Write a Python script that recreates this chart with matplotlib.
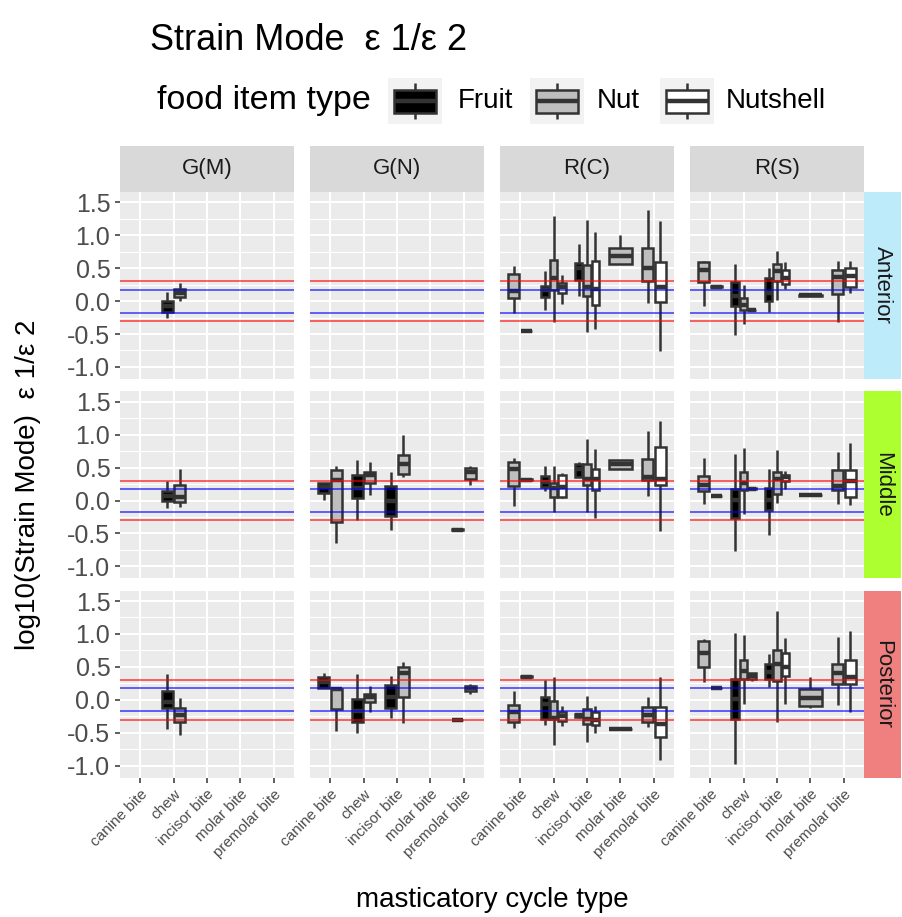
import matplotlib
matplotlib.use('Agg')
import matplotlib.pyplot as plt
from matplotlib.patches import Rectangle

plt.rcParams['font.family'] = ['Liberation Sans', 'DejaVu Sans']

# categories
cycles = ['canine bite', 'chew', 'incisor bite', 'molar bite', 'premolar bite']
foods = ['Fruit', 'Nut', 'Nutshell']
food_colors = {'Fruit': '#000000', 'Nut': '#BEBEBE', 'Nutshell': '#FFFFFF'}
muscles = ['G(M)', 'G(N)', 'R(C)', 'R(S)']
regions = ['Anterior', 'Middle', 'Posterior']
region_colors = ['#BDEBFA', '#ADFF2F', '#F08080']
yticks = [-1.0, -0.5, 0.0, 0.5, 1.0, 1.5]

# box stats: cycle, food, whisker low, q1, median, q3, whisker high
anterior_gm = [
    ('chew', 'Fruit', -0.25, -0.16, -0.07, 0.0, 0.14),
    ('chew', 'Nut', 0.0, 0.06, 0.12, 0.18, 0.27),
]
anterior_gn = []
anterior_rc = [
    ('canine bite', 'Nut', -0.18, 0.05, 0.15, 0.41, 0.53),
    ('canine bite', 'Nutshell', -0.47, -0.46, -0.46, -0.45, -0.45),
    ('chew', 'Fruit', -0.14, 0.06, 0.17, 0.23, 0.45),
    ('chew', 'Nut', -0.31, 0.17, 0.35, 0.62, 1.29),
    ('chew', 'Nutshell', -0.04, 0.12, 0.21, 0.27, 0.40),
    ('incisor bite', 'Fruit', 0.08, 0.32, 0.50, 0.58, 0.87),
    ('incisor bite', 'Nut', -0.47, 0.08, 0.22, 0.55, 1.23),
    ('incisor bite', 'Nutshell', -0.42, -0.06, 0.18, 0.61, 1.05),
    ('molar bite', 'Nut', 0.57, 0.57, 0.68, 0.81, 1.01),
    ('premolar bite', 'Nut', -0.03, 0.31, 0.51, 0.81, 1.39),
    ('premolar bite', 'Nutshell', -0.76, -0.02, 0.21, 0.59, 1.22),
]
anterior_rs = [
    ('canine bite', 'Nut', -0.08, 0.29, 0.47, 0.60, 0.61),
    ('canine bite', 'Nutshell', 0.21, 0.22, 0.22, 0.23, 0.23),
    ('chew', 'Fruit', -0.52, -0.08, 0.07, 0.29, 0.57),
    ('chew', 'Nut', -0.35, -0.13, -0.055, 0.045, 0.25),
    ('chew', 'Nutshell', -0.15, -0.14, -0.14, -0.13, -0.13),
    ('incisor bite', 'Fruit', -0.16, 0.0, 0.12, 0.35, 0.51),
    ('incisor bite', 'Nut', 0.02, 0.31, 0.45, 0.56, 0.76),
    ('incisor bite', 'Nutshell', 0.18, 0.26, 0.35, 0.47, 0.60),
    ('molar bite', 'Nut', 0.07, 0.07, 0.09, 0.10, 0.13),
    ('premolar bite', 'Nut', -0.31, 0.11, 0.36, 0.47, 0.61),
    ('premolar bite', 'Nutshell', 0.13, 0.21, 0.38, 0.51, 0.61),
]

middle_gm = [
    ('chew', 'Fruit', -0.12, -0.01, 0.07, 0.14, 0.29),
    ('chew', 'Nut', -0.10, -0.02, 0.05, 0.24, 0.48),
]
middle_gn = [
    ('canine bite', 'Fruit', 0.005, 0.12, 0.21, 0.27, 0.27),
    ('canine bite', 'Nut', -0.65, -0.32, 0.31, 0.47, 0.52),
    ('chew', 'Fruit', -0.30, 0.04, 0.19, 0.38, 0.61),
    ('chew', 'Nut', 0.08, 0.26, 0.38, 0.43, 0.58),
    ('incisor bite', 'Fruit', -0.45, -0.24, -0.01, 0.22, 0.43),
    ('incisor bite', 'Nut', 0.35, 0.41, 0.56, 0.69, 0.99),
    ('premolar bite', 'Fruit', -0.46, -0.45, -0.45, -0.44, -0.44),
    ('premolar bite', 'Nut', 0.24, 0.33, 0.44, 0.50, 0.53),
]
middle_rc = [
    ('canine bite', 'Nut', -0.08, 0.22, 0.48, 0.59, 0.65),
    ('canine bite', 'Nutshell', 0.30, 0.31, 0.31, 0.32, 0.32),
    ('chew', 'Fruit', 0.14, 0.21, 0.28, 0.37, 0.52),
    ('chew', 'Nut', -0.18, 0.055, 0.19, 0.26, 0.52),
    ('chew', 'Nutshell', 0.04, 0.055, 0.20, 0.38, 0.42),
    ('incisor bite', 'Fruit', 0.36, 0.36, 0.48, 0.56, 0.58),
    ('incisor bite', 'Nut', -0.18, 0.23, 0.32, 0.56, 0.93),
    ('incisor bite', 'Nutshell', -0.26, 0.16, 0.33, 0.48, 0.78),
    ('molar bite', 'Nut', 0.48, 0.48, 0.56, 0.62, 0.62),
    ('premolar bite', 'Nut', 0.075, 0.31, 0.36, 0.63, 1.05),
    ('premolar bite', 'Nutshell', -0.46, 0.24, 0.33, 0.81, 1.21),
]
middle_rs = [
    ('canine bite', 'Nut', -0.06, 0.14, 0.23, 0.37, 0.64),
    ('canine bite', 'Nutshell', 0.06, 0.065, 0.065, 0.07, 0.07),
    ('chew', 'Fruit', -0.76, -0.26, 0.015, 0.17, 0.71),
    ('chew', 'Nut', -0.20, 0.165, 0.27, 0.43, 0.80),
    ('chew', 'Nutshell', 0.17, 0.18, 0.18, 0.19, 0.19),
    ('incisor bite', 'Fruit', -0.52, -0.14, 0.015, 0.19, 0.48),
    ('incisor bite', 'Nut', -0.045, 0.105, 0.32, 0.43, 0.76),
    ('incisor bite', 'Nutshell', 0.17, 0.29, 0.35, 0.39, 0.45),
    ('molar bite', 'Nut', 0.08, 0.08, 0.08, 0.09, 0.09),
    ('premolar bite', 'Nut', -0.06, 0.16, 0.22, 0.46, 0.73),
    ('premolar bite', 'Nutshell', -0.075, 0.055, 0.30, 0.46, 0.88),
]

posterior_gm = [
    ('chew', 'Fruit', -0.44, -0.13, -0.04, 0.14, 0.39),
    ('chew', 'Nut', -0.53, -0.33, -0.23, -0.12, 0.02),
]
posterior_gn = [
    ('canine bite', 'Fruit', 0.18, 0.18, 0.27, 0.34, 0.41),
    ('canine bite', 'Nut', -0.47, -0.14, 0.16, 0.17, 0.20),
    ('chew', 'Fruit', -0.50, -0.33, -0.17, 0.01, 0.39),
    ('chew', 'Nut', -0.18, -0.04, 0.035, 0.095, 0.21),
    ('incisor bite', 'Fruit', -0.28, -0.13, 0.035, 0.22, 0.36),
    ('incisor bite', 'Nut', -0.35, 0.05, 0.41, 0.50, 0.58),
    ('premolar bite', 'Fruit', -0.31, -0.31, -0.31, -0.30, -0.30),
    ('premolar bite', 'Nut', 0.095, 0.14, 0.18, 0.21, 0.24),
]
posterior_rc = [
    ('canine bite', 'Nut', -0.43, -0.33, -0.19, -0.08, 0.14),
    ('canine bite', 'Nutshell', 0.34, 0.35, 0.35, 0.36, 0.36),
    ('chew', 'Fruit', -0.38, -0.29, -0.065, 0.05, 0.30),
    ('chew', 'Nut', -0.68, -0.29, -0.27, -0.015, 0.35),
    ('chew', 'Nutshell', -0.40, -0.32, -0.25, -0.19, -0.10),
    ('incisor bite', 'Fruit', -0.28, -0.26, -0.23, -0.21, -0.20),
    ('incisor bite', 'Nut', -0.64, -0.37, -0.29, -0.14, 0.06),
    ('incisor bite', 'Nutshell', -0.50, -0.39, -0.30, -0.19, -0.10),
    ('molar bite', 'Nut', -0.46, -0.45, -0.45, -0.44, -0.44),
    ('premolar bite', 'Nut', -0.42, -0.33, -0.23, -0.115, 0.045),
    ('premolar bite', 'Nutshell', -0.92, -0.57, -0.37, -0.115, 0.35),
]
posterior_rs = [
    ('canine bite', 'Nut', 0.27, 0.50, 0.71, 0.89, 0.92),
    ('canine bite', 'Nutshell', 0.17, 0.175, 0.18, 0.185, 0.19),
    ('chew', 'Fruit', -0.97, -0.29, 0.01, 0.31, 1.02),
    ('chew', 'Nut', -0.065, 0.32, 0.44, 0.60, 0.99),
    ('chew', 'Nutshell', 0.29, 0.32, 0.36, 0.40, 0.40),
    ('incisor bite', 'Fruit', 0.19, 0.32, 0.42, 0.55, 0.70),
    ('incisor bite', 'Nut', -0.34, 0.29, 0.54, 0.75, 1.35),
    ('incisor bite', 'Nutshell', -0.065, 0.36, 0.50, 0.71, 0.94),
    ('molar bite', 'Nut', -0.13, -0.09, 0.03, 0.17, 0.35),
    ('premolar bite', 'Nut', -0.075, 0.24, 0.41, 0.55, 0.96),
    ('premolar bite', 'Nutshell', -0.19, 0.24, 0.34, 0.60, 1.04),
]

panels = [
    [anterior_gm, anterior_gn, anterior_rc, anterior_rs],
    [middle_gm, middle_gn, middle_rc, middle_rs],
    [posterior_gm, posterior_gn, posterior_rc, posterior_rs],
]

# reference lines: log10(2) red, log10(1.5) blue
red_lines = [0.301, -0.301]
blue_lines = [0.176, -0.176]

W, H = 902, 917
fig = plt.figure(figsize=(W / 100, H / 100), dpi=100)


def px(x0, y0, w, h):
    return [x0 / W, 1 - (y0 + h) / H, w / W, h / H]


EDGE = '#333333'
LW = 1.8
col_left = [120, 310, 500, 690]
row_top = [191.8, 391.2, 590.5]
pw, ph = 174, 187

for r, region in enumerate(regions):
    for c, muscle in enumerate(muscles):
        ax = fig.add_axes(px(col_left[c], row_top[r], pw, ph))
        ax.set_facecolor('#EBEBEB')
        ax.set_xlim(0.4, 5.6)
        ax.set_ylim(-1.18, 1.66)
        ax.set_xticks(range(1, 6))
        ax.set_yticks(yticks)
        ax.set_yticks([-0.75, -0.25, 0.25, 0.75, 1.25], minor=True)
        ax.grid(which='major', color='white', linewidth=1.5, zorder=0)
        ax.grid(which='minor', axis='y', color='white', linewidth=0.8, zorder=0)
        ax.set_axisbelow(True)
        for s in ax.spines.values():
            s.set_visible(False)
        ax.tick_params(which='minor', length=0)
        ax.tick_params(which='major', length=3.5, width=1.1, color=EDGE,
                       labelcolor='#4D4D4D')

        data = panels[r][c]
        stats, pos, wid, fills = [], [], [], []
        for k, cyc in enumerate(cycles):
            rows = [d for d in data if d[0] == cyc]
            rows.sort(key=lambda d: foods.index(d[1]))
            n = len(rows)
            for i, d in enumerate(rows):
                stats.append(dict(whislo=d[2], q1=d[3], med=d[4], q3=d[5],
                                  whishi=d[6], fliers=[]))
                pos.append(k + 1 + (i - (n - 1) / 2) * 0.75 / n)
                wid.append(0.75 / n * 0.9)
                fills.append(food_colors[d[1]])
        if stats:
            bp = ax.bxp(stats, positions=pos, widths=wid, patch_artist=True,
                        showcaps=False, showfliers=False, manage_ticks=False,
                        boxprops=dict(edgecolor=EDGE, linewidth=LW),
                        whiskerprops=dict(color=EDGE, linewidth=LW,
                                          solid_capstyle='butt'),
                        medianprops=dict(color=EDGE, linewidth=3.2,
                                         solid_capstyle='butt'))
            for b, f in zip(bp['boxes'], fills):
                b.set_facecolor(f)
                b.set_zorder(2)

        for v in red_lines:
            ax.axhline(v, color='#FF0000', linewidth=1.2, alpha=0.7, zorder=3)
        for v in blue_lines:
            ax.axhline(v, color='#0000FF', linewidth=1.2, alpha=0.7, zorder=3)

        if c == 0:
            ax.set_yticklabels(['%.1f' % t for t in yticks], fontsize=18)
        else:
            ax.tick_params(axis='y', which='major', length=0, labelleft=False)
        if r == 2:
            ax.set_xticklabels(cycles, rotation=45, ha='right', va='top',
                               rotation_mode='anchor', fontsize=11)
        else:
            ax.tick_params(axis='x', which='major', length=0, labelbottom=False)

        # top strips
        if r == 0:
            sax = fig.add_axes(px(col_left[c], 146, pw, 45.8))
            sax.set_facecolor('#D9D9D9')
            sax.set_xticks([])
            sax.set_yticks([])
            for s in sax.spines.values():
                s.set_visible(False)
            sax.text(0.5, 0.5, muscle, ha='center', va='center', fontsize=16,
                     color='#1A1A1A', transform=sax.transAxes)

    # right strips
    rax = fig.add_axes(px(864, row_top[r], 37, ph))
    rax.set_facecolor(region_colors[r])
    rax.set_xticks([])
    rax.set_yticks([])
    for s in rax.spines.values():
        s.set_visible(False)
    rax.text(0.5, 0.5, region, ha='center', va='center', rotation=-90,
             fontsize=16, color='#1A1A1A', transform=rax.transAxes)

# axis titles
fig.text(28 / W, 1 - 485 / H, 'log10(Strain Mode)  \u03b5 1/\u03b5 2', rotation=90,
         ha='center', va='center', fontsize=20)
fig.text(492 / W, 1 - 900 / H, 'masticatory cycle type', ha='center',
         va='center', fontsize=20)

# title
fig.text(150 / W, 1 - 40 / H, 'Strain Mode  \u03b5 1/\u03b5 2', ha='left',
         va='center', fontsize=26)

# legend
fig.text(157 / W, 1 - 101 / H, 'food item type', ha='left', va='center',
         fontsize=24.5)
key_x = [388, 530, 660]
lab_x = [458, 597, 726]
for f, kx, lx in zip(foods, key_x, lab_x):
    kax = fig.add_axes(px(kx, 78, 54, 46))
    kax.set_facecolor('#F2F2F2')
    kax.set_xlim(0, 1)
    kax.set_ylim(0, 1)
    kax.set_xticks([])
    kax.set_yticks([])
    for s in kax.spines.values():
        s.set_visible(False)
    kax.plot([0.5, 0.5], [0.1, 0.25], color=EDGE, linewidth=LW,
             solid_capstyle='butt')
    kax.plot([0.5, 0.5], [0.75, 0.9], color=EDGE, linewidth=LW,
             solid_capstyle='butt')
    kax.add_patch(Rectangle((0.12, 0.25), 0.76, 0.5, facecolor=food_colors[f],
                            edgecolor=EDGE, linewidth=LW))
    kax.plot([0.12, 0.88], [0.5, 0.5], color=EDGE, linewidth=3.2,
             solid_capstyle='butt')
    fig.text(lx / W, 1 - 101 / H, f, ha='left', va='center', fontsize=20)

fig.savefig('out.png', dpi=100)
